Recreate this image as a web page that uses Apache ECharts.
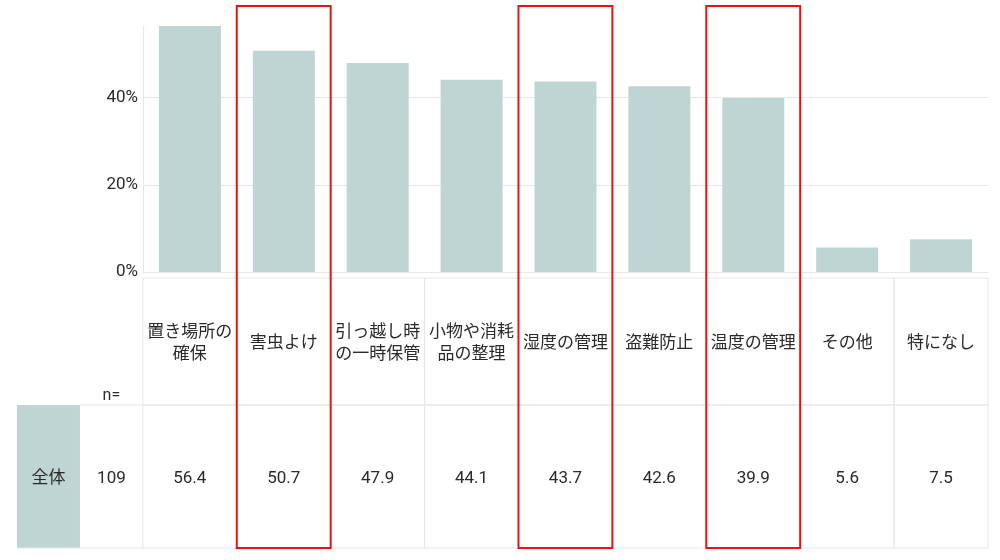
<!DOCTYPE html>
<html>
<head>
<meta charset="utf-8">
<script src="https://cdn.jsdelivr.net/npm/echarts@6/dist/echarts.min.js"></script>
<style>
  html, body { margin: 0; padding: 0; background: #fff; }
  #chart { width: 1000px; height: 560px; }
</style>
</head>
<body>
<div id="chart"></div>
<script>
// データ
const categories = ['置き場所の確保', '害虫よけ', '引っ越し時の一時保管', '小物や消耗品の整理', '湿度の管理', '盗難防止', '温度の管理', 'その他', '特になし'];
const headerLabels = ['置き場所の\n確保', '害虫よけ', '引っ越し時\nの一時保管', '小物や消耗\n品の整理', '湿度の管理', '盗難防止', '温度の管理', 'その他', '特になし'];
const values = [56.4, 50.7, 47.9, 44.1, 43.7, 42.6, 39.9, 5.6, 7.5];
const yTicks = [0, 20, 40];
const groupLabel = '全体';
const sampleSize = 109;
const highlighted = ['害虫よけ', '湿度の管理', '温度の管理'];

const TEAL = '#bed5d3';
const LINE = '#e6e6e6';
const TEXT = '#2a2a2a';
const FONT = "Roboto, 'Noto Sans CJK JP', sans-serif";
const STUB = 63 / 94; // 左側の見出し列の幅（カテゴリ列に対する比）

const chart = echarts.init(document.getElementById('chart'));

// 表のセル（カテゴリ列）
function cellRender(getText) {
  return function (params, api) {
    const i = api.value(0);
    const p0 = api.coord([i, 0]);
    const p1 = api.coord([i + 1, 1]);
    const x = p0[0], y = p1[1], w = p1[0] - p0[0], h = p0[1] - p1[1];
    return {
      type: 'group',
      children: [
        { type: 'rect', shape: { x: x, y: y, width: w, height: h },
          style: { fill: 'none', stroke: LINE, lineWidth: 1 } },
        { type: 'text', style: { text: getText(i), x: x + w / 2, y: y + h / 2 + 2,
          align: 'center', verticalAlign: 'middle', font: '17px ' + FONT,
          lineHeight: 22, fill: TEXT } }
      ]
    };
  };
}

chart.setOption({
  animation: false,
  backgroundColor: '#fff',
  grid: [
    { left: 143, right: 12, top: 26, height: 246 },
    { left: 17, right: 12, top: 278, height: 127 },
    { left: 17, right: 12, top: 405, height: 143 }
  ],
  xAxis: [
    { type: 'category', gridIndex: 0, data: categories,
      axisLine: { show: true, lineStyle: { color: LINE } },
      axisTick: { show: false }, axisLabel: { show: false } },
    { type: 'value', gridIndex: 1, min: -2 * STUB, max: categories.length, show: false },
    { type: 'value', gridIndex: 2, min: -2 * STUB, max: categories.length, show: false }
  ],
  yAxis: [
    { type: 'value', gridIndex: 0, min: yTicks[0], max: values[0], interval: yTicks[1] - yTicks[0],
      axisLine: { show: true, lineStyle: { color: LINE } },
      axisTick: { show: false },
      axisLabel: { formatter: '{value}%', fontSize: 17, color: TEXT, fontFamily: FONT,
        margin: 5, showMaxLabel: false, verticalAlign: 'middle', padding: [3, 0, 0, 0] },
      splitLine: { show: true, showMaxLine: false, lineStyle: { color: LINE } } },
    { type: 'value', gridIndex: 1, min: 0, max: 1, show: false },
    { type: 'value', gridIndex: 2, min: 0, max: 1, show: false }
  ],
  series: [
    {
      type: 'bar', xAxisIndex: 0, yAxisIndex: 0,
      data: values, barWidth: 62,
      itemStyle: { color: TEAL },
      silent: true
    },
    {
      // 見出し行
      type: 'custom', xAxisIndex: 1, yAxisIndex: 1, clip: false,
      data: categories.map((c, i) => [i, 0]),
      renderItem: cellRender(i => headerLabels[i])
    },
    {
      // 数値行
      type: 'custom', xAxisIndex: 2, yAxisIndex: 2, clip: false,
      data: values.map((v, i) => [i, 0]),
      renderItem: cellRender(i => values[i].toFixed(1))
    },
    {
      // 左の見出し: n= / 全体 / 109
      type: 'custom', xAxisIndex: 2, yAxisIndex: 2, clip: false,
      data: [[0, 0]],
      renderItem: function (params, api) {
        const a = api.coord([-2 * STUB, 0]);
        const b = api.coord([-STUB, 1]);
        const c = api.coord([0, 1]);
        const top = b[1], bottom = a[1], h = bottom - top;
        return {
          type: 'group',
          children: [
            { type: 'rect', shape: { x: a[0], y: top, width: b[0] - a[0], height: h },
              style: { fill: TEAL } },
            { type: 'line', shape: { x1: b[0], y1: top, x2: c[0], y2: top },
              style: { stroke: LINE, lineWidth: 1 } },
            { type: 'line', shape: { x1: a[0], y1: bottom, x2: c[0], y2: bottom },
              style: { stroke: LINE, lineWidth: 1 } },
            { type: 'text', style: { text: groupLabel, x: (a[0] + b[0]) / 2, y: top + h / 2 + 2,
              align: 'center', verticalAlign: 'middle', font: '17px ' + FONT, fill: TEXT } },
            { type: 'text', style: { text: String(sampleSize), x: (b[0] + c[0]) / 2, y: top + h / 2 + 2,
              align: 'center', verticalAlign: 'middle', font: '17px ' + FONT, fill: TEXT } },
            { type: 'text', style: { text: 'n=', x: (b[0] + c[0]) / 2, y: top - 1,
              align: 'center', verticalAlign: 'bottom', font: '16px ' + FONT, fill: TEXT } }
          ]
        };
      }
    },
    {
      // 赤枠
      type: 'custom', xAxisIndex: 2, yAxisIndex: 2, clip: false, z: 10,
      data: highlighted.map(h => [categories.indexOf(h), 0]),
      renderItem: function (params, api) {
        const i = api.value(0);
        const p0 = api.coord([i, 0]);
        const p1 = api.coord([i + 1, 0]);
        return {
          type: 'rect',
          shape: { x: p0[0], y: 6, width: p1[0] - p0[0], height: p0[1] - 6 },
          style: { fill: 'none', stroke: '#ee1111', lineWidth: 2 }
        };
      }
    }
  ]
});
</script>
</body>
</html>
